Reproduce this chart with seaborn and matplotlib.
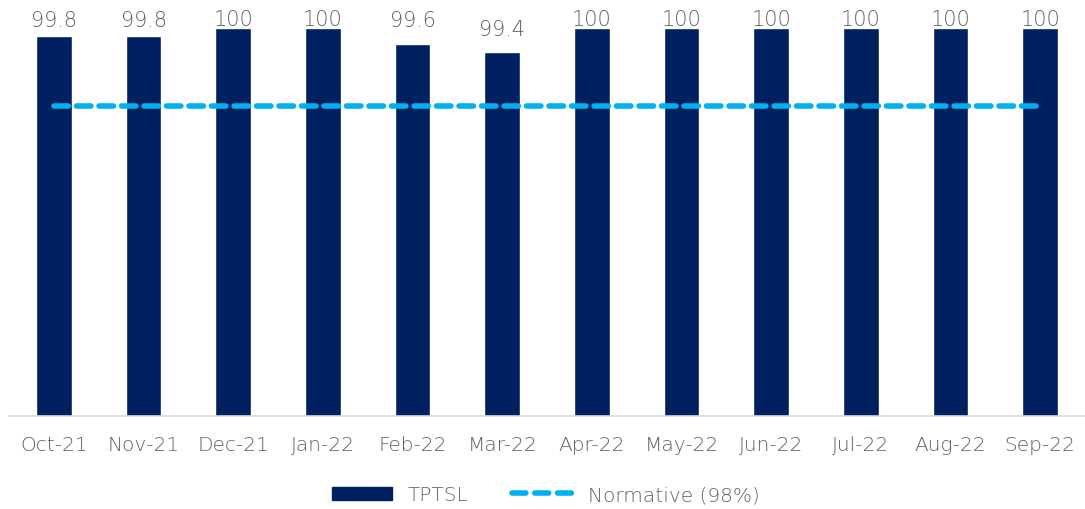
import matplotlib
matplotlib.use('Agg')
import matplotlib.pyplot as plt
import seaborn as sns
import pandas as pd
from matplotlib.lines import Line2D
from matplotlib.patches import Patch

months = ['Oct-21', 'Nov-21', 'Dec-21', 'Jan-22', 'Feb-22', 'Mar-22',
          'Apr-22', 'May-22', 'Jun-22', 'Jul-22', 'Aug-22', 'Sep-22']
tptsl = [99.8, 99.8, 100, 100, 99.6, 99.4, 100, 100, 100, 100, 100, 100]
normative = [98] * 12

# gap from bar top to label baseline (points), as placed in the original
label_pad = [7.6, 7.6, 2.6, 2.6, 13, 12.2, 2.6, 2.6, 2.6, 2.6, 2.6, 2.6]

sns.set_theme(style='white')
plt.rcParams['font.family'] = ['DejaVu Sans']
plt.rcParams['font.weight'] = 'light'
text_color = '#606060'

df = pd.DataFrame({'month': months, 'tptsl': tptsl, 'normative': normative})

fig = plt.figure(figsize=(10.85, 5.1), dpi=100)
ax = fig.add_axes([0.0083, 0.1824, 0.9917, 0.760])

sns.barplot(data=df, x='month', y='tptsl', ax=ax, color='#002060',
            width=0.4, saturation=1)
ax.plot(range(len(months)), df['normative'], color='#00B0F0', linewidth=4,
        linestyle=(0, (2.6, 1.45)), dash_capstyle='round')

for i, v in enumerate(tptsl):
    ax.annotate(f'{v:g}', (i, v), xytext=(0, label_pad[i]),
                textcoords='offset points', ha='center', va='baseline',
                fontsize=15, color=text_color)

ax.set_ylim(90, 100)
ax.set_xlim(-0.5, len(months) - 0.5)
ax.set_xlabel('')
ax.set_ylabel('')
ax.set_yticks([])
ax.tick_params(axis='x', labelsize=14.5, colors=text_color, length=0, pad=14)
for s in ['top', 'right', 'left']:
    ax.spines[s].set_visible(False)
ax.spines['bottom'].set_color('#D9D9D9')
ax.spines['bottom'].set_linewidth(1.2)

handles = [Patch(color='#002060', label='TPTSL'),
           Line2D([0], [0], color='#00B0F0', linewidth=4,
                  linestyle=(0, (2.5, 1.6)), dash_capstyle='round',
                  label='Normative (98%)')]
leg = fig.legend(handles=handles, loc='center', bbox_to_anchor=(0.503, 0.028),
                 ncol=2, frameon=False, fontsize=14.5, handlelength=3.0,
                 handleheight=0.6, columnspacing=2.2, handletextpad=0.75)
for t in leg.get_texts():
    t.set_color(text_color)

fig.savefig('out.png', dpi=100)
